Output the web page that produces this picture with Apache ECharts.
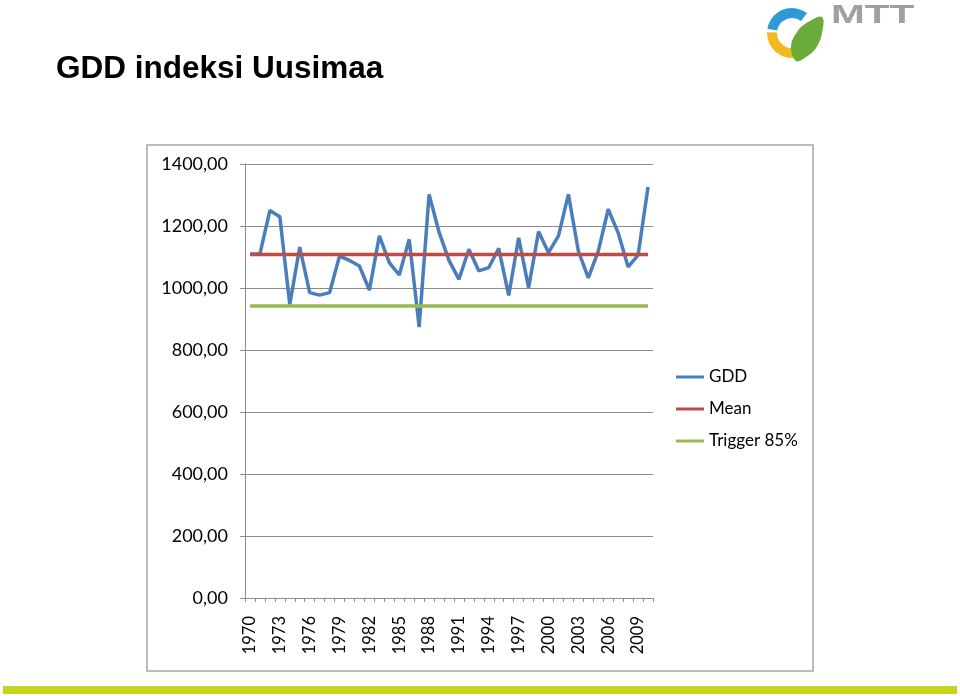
<!DOCTYPE html>
<html>
<head>
<meta charset="utf-8">
<script src="https://cdn.jsdelivr.net/npm/echarts@6/dist/echarts.min.js"></script>
<style>html,body{margin:0;padding:0;background:#fff}#c{width:960px;height:696px}</style>
</head>
<body>
<div id="c"></div>
<script>
const years = ['1970','1971','1972','1973','1974','1975','1976','1977','1978','1979',
  '1980','1981','1982','1983','1984','1985','1986','1987','1988','1989',
  '1990','1991','1992','1993','1994','1995','1996','1997','1998','1999',
  '2000','2001','2002','2003','2004','2005','2006','2007','2008','2009','2010'];
const gdd = [1110,1110,1250,1230,947,1132,985,977,985,1103,
  1089,1071,993,1168,1082,1042,1157,874,1302,1180,
  1089,1028,1125,1055,1066,1128,976,1162,1001,1182,
  1114,1168,1302,1119,1033,1119,1254,1178,1068,1106,1326];
const mean = [1108,1108,1108,1108,1108,1108,1108,1108,1108,1108,
  1108,1108,1108,1108,1108,1108,1108,1108,1108,1108,
  1108,1108,1108,1108,1108,1108,1108,1108,1108,1108,
  1108,1108,1108,1108,1108,1108,1108,1108,1108,1108,1108];
const trigger = [942,942,942,942,942,942,942,942,942,942,
  942,942,942,942,942,942,942,942,942,942,
  942,942,942,942,942,942,942,942,942,942,
  942,942,942,942,942,942,942,942,942,942,942];
const seriesNames = ['GDD','Mean','Trigger 85%'];
const titleText = 'GDD indeksi Uusimaa';

const chart = echarts.init(document.getElementById('c'), null, {renderer:'canvas'});
const axisGray = '#8c8c8c';
const lab = {fontFamily:'Lato', color:'#000'};
chart.setOption({
  animation:false,
  backgroundColor:'#fff',
  title:{text:titleText, left:56, top:53, padding:0,
    textStyle:{fontFamily:'Liberation Sans', fontWeight:'bold', fontSize:31.5, color:'#000'}},
  legend:{orient:'vertical', left:676, top:368, padding:0, itemWidth:28, itemHeight:3, itemGap:14,
    icon:'rect', data:seriesNames,
    textStyle:{fontFamily:'Lato', fontSize:17, color:'#000', lineHeight:18}},
  grid:{left:245, right:307, top:164, bottom:98, containLabel:false},
  xAxis:{type:'category', data:years, boundaryGap:true,
    axisLine:{lineStyle:{color:axisGray, width:1}},
    axisTick:{show:true, interval:0, length:4, lineStyle:{color:axisGray}},
    axisLabel:{interval:2, rotate:90, margin:18, fontSize:16.5, ...lab},
    splitLine:{show:false}},
  yAxis:{type:'value', min:0, max:1400, interval:200,
    axisLine:{show:true, lineStyle:{color:axisGray, width:1}},
    axisTick:{show:true, length:5, lineStyle:{color:axisGray}},
    axisLabel:{margin:17, fontSize:18, ...lab,
      formatter:v=>v.toFixed(2).replace('.',',')},
    splitLine:{show:true, lineStyle:{color:axisGray, width:1}}},
  series:[
    {name:seriesNames[0], type:'line', data:gdd, symbol:'none',
      lineStyle:{color:'#4a7ebb', width:3.5}, itemStyle:{color:'#4a7ebb'}},
    {name:seriesNames[1], type:'line', data:mean, symbol:'none',
      lineStyle:{color:'#be4b48', width:3.5}, itemStyle:{color:'#be4b48'}},
    {name:seriesNames[2], type:'line', data:trigger, symbol:'none',
      lineStyle:{color:'#98b954', width:3.5}, itemStyle:{color:'#98b954'}}
  ],
  graphic:[
    {type:'rect', shape:{x:147, y:145, width:666, height:526}, z:-1,
      style:{fill:null, stroke:'#a6a6a6', lineWidth:1.5}},
    {type:'rect', shape:{x:3, y:686, width:954, height:8},
      style:{fill:'#c9d21f'}},
    {type:'sector', shape:{cx:792, cy:33, r:25, r0:15, startAngle:190*Math.PI/180, endAngle:307*Math.PI/180, clockwise:true},
      style:{fill:'#2e9ad6'}},
    {type:'sector', shape:{cx:792, cy:33, r:25, r0:15, startAngle:88*Math.PI/180, endAngle:182*Math.PI/180, clockwise:true},
      style:{fill:'#f2b922'}},
    {type:'polygon', shape:{points:[[796,61],[791,47],[797,32],[808,22],[822,17],[822,33],[816,48],[806,57]], smooth:0.4},
      style:{fill:'#6aab3a'}},
    {type:'text', x:831, y:4, scaleX:1.62, style:{text:'MTT', fontFamily:'Liberation Sans', fontWeight:'bold', fontSize:25, fill:'#a0a0a0'}}
  ]
});
</script>
</body>
</html>
